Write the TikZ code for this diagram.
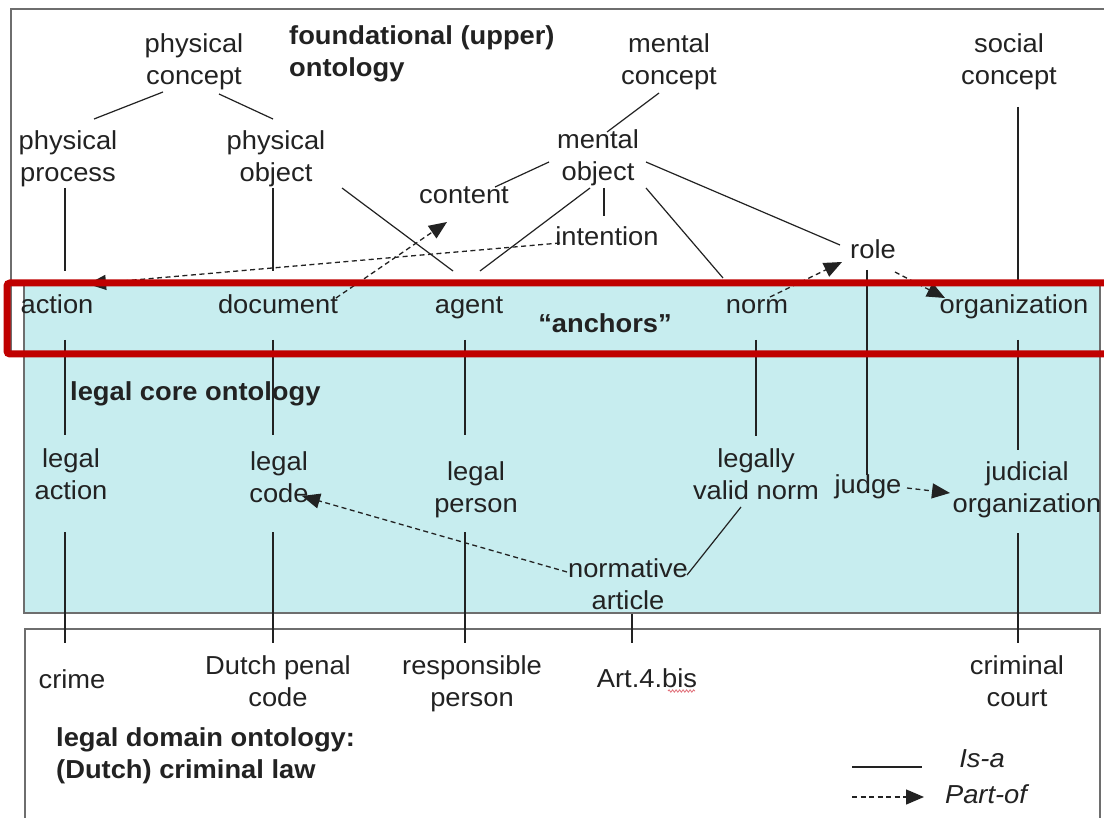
\documentclass[tikz,border=0pt]{standalone}
\usepackage{fontspec}
\setmainfont{Liberation Sans}[FakeStretch=1.05]
\usetikzlibrary{calc,arrows.meta,decorations.pathmorphing}

\definecolor{inkc}{RGB}{34,34,34}
\definecolor{corefill}{RGB}{199,237,239}
\definecolor{framec}{RGB}{110,110,110}
\definecolor{anchorred}{RGB}{192,0,0}
\definecolor{spellred}{RGB}{225,110,120}

\newcommand\txtsize{\fontsize{26}{32}\selectfont}
\newcommand\twoln[2]{\strut#1\\\strut#2}

\begin{document}
\begin{tikzpicture}[x=1pt,y=-1pt,
  lbl/.style={align=center,inner sep=0pt,text=inkc,font=\txtsize},
  ttl/.style={align=left,inner sep=0pt,text=inkc,font=\txtsize\bfseries,anchor=west},
  isa/.style={draw=inkc,line width=1.2pt},
  judgeline/.style={draw=inkc,line width=2pt},
  partof/.style={draw=inkc,line width=1.3pt,dash pattern=on 5pt off 3.5pt,
    -{Triangle[length=18pt,width=15pt]}},
  frame/.style={draw=framec,line width=1.4pt}]

% canvas
\fill[white] (0,0) rectangle (1104,818);
\useasboundingbox (0,0) rectangle (1104,818);

% layer frames
\draw[frame] (11,9) rectangle (1112,352);
\draw[frame,fill=corefill] (24,283) rectangle (1100,613);
\draw[frame] (25,629) rectangle (1100,830);

% foundational (upper) ontology
\node[lbl] (pc) at (194,62) {\twoln{physical}{concept}};
\node[ttl] (found) at (289,54) {\twoln{foundational (upper)}{ontology}};
\node[lbl] (mc) at (669,62) {\twoln{mental}{concept}};
\node[lbl] (sc) at (1009,62) {\twoln{social}{concept}};
\node[lbl] (pp) at (68,159) {\twoln{physical}{process}};
\node[lbl] (po) at (276,159) {\twoln{physical}{object}};
\node[lbl] (mo) at (598,158) {\twoln{mental}{object}};
\node[lbl] (cont) at (464,197) {\strut content};
\node[lbl] (int) at (607,239) {\strut intention};
\node[lbl] (role) at (873,252) {\strut role};

% anchors
\node[lbl] (act) at (57,307) {\strut action};
\node[lbl] (doc) at (278,307) {\strut document};
\node[lbl] (agt) at (469,307) {\strut agent};
\node[lbl] (norm) at (757,307) {\strut norm};
\node[lbl] (org) at (1014,307) {\strut organization};
\node[lbl,font=\txtsize\bfseries] (anch) at (605,326) {\strut “anchors”};

% legal core ontology
\node[ttl] (lco) at (70,394) {\strut legal core ontology};
\node[lbl] (la) at (71,477) {\twoln{legal}{action}};
\node[lbl] (lc) at (279,480) {\twoln{legal}{code}};
\node[lbl] (lp) at (476,490) {\twoln{legal}{person}};
\node[lbl] (lvn) at (756,477) {\twoln{legally}{valid norm}};
\node[lbl] (judge) at (868,487) {\strut judge};
\node[lbl] (jo) at (1027,490) {\twoln{judicial}{organization}};
\node[lbl] (na) at (628,587) {\twoln{normative}{article}};

% legal domain ontology
\node[lbl] (crime) at (72,682) {\strut crime};
\node[lbl] (dpc) at (278,684) {\twoln{Dutch penal}{code}};
\node[lbl] (rp) at (472,684) {\twoln{responsible}{person}};
\node[lbl] (art) at (647,681) {\strut Art.4.bis};
\node[lbl] (cc) at (1017,684) {\twoln{criminal}{court}};
\node[ttl] (ldo) at (56,756) {\twoln{legal domain ontology:}{(Dutch) criminal law}};

% legend
\node[lbl,font=\txtsize\itshape] (isaL) at (982,761) {\strut Is-a};
\node[lbl,font=\txtsize\itshape] (partL) at (986,797) {\strut Part-of};
\coordinate (lgA) at (852,767);
\coordinate (lgB) at (922,767);
\coordinate (lgC) at (852,797);
\coordinate (lgD) at (924,797);
\draw[isa] (lgA) -- (lgB);
\draw[partof] (lgC) -- (lgD);

% spelling squiggle under "bis"
\draw[draw=spellred,line width=0.8pt,decorate,
  decoration={snake,amplitude=1.2pt,segment length=3.5pt}]
  ($(art)+(21,10)$) -- ($(art)+(48,10)$);

% is-a links
\draw[isa] ($(pc)+(-31,30)$) -- ($(pp)+(26,-40)$);
\draw[isa] ($(pc)+(25,32)$) -- ($(po)+(-3,-40)$);
\draw[isa] ($(pp)+(-3,29)$) -- ($(act)+(8,-36)$);
\draw[isa] ($(po)+(-3,29)$) -- ($(doc)+(-5,-36)$);
\draw[isa] ($(po)+(66,29)$) -- ($(agt)+(-16,-36)$);
\draw[isa] ($(mo)+(-8,30)$) -- ($(agt)+(11,-36)$);
\draw[isa] ($(mo)+(-49,4)$) -- ($(cont)+(31,-10)$);
\draw[isa] ($(mc)+(-10,31)$) -- ($(mo)+(9,-26)$);
\draw[isa] ($(mo)+(6,30)$) -- ($(int)+(-3,-23)$);
\draw[isa] ($(mo)+(48,30)$) -- ($(norm)+(-34,-29)$);
\draw[isa] ($(mo)+(48,4)$) -- ($(role)+(-33,-7)$);
\draw[isa] ($(sc)+(9,45)$) -- ($(org)+(4,-27)$);
\draw[judgeline] ($(role)+(-6,18)$) -- ($(judge)+(-1,-12)$);
\draw[isa] ($(act)+(8,33)$) -- ($(la)+(-6,-42)$);
\draw[isa] ($(doc)+(-5,33)$) -- ($(lc)+(-6,-45)$);
\draw[isa] ($(agt)+(-4,33)$) -- ($(lp)+(-11,-55)$);
\draw[isa] ($(norm)+(-1,33)$) -- ($(lvn)+(0,-41)$);
\draw[isa] ($(org)+(4,33)$) -- ($(jo)+(-9,-40)$);
\draw[isa] ($(lvn)+(-15,30)$) -- ($(na)+(59,-12)$);
\draw[isa] ($(la)+(-6,55)$) -- ($(crime)+(-7,-39)$);
\draw[isa] ($(lc)+(-6,52)$) -- ($(dpc)+(-5,-41)$);
\draw[isa] ($(lp)+(-11,42)$) -- ($(rp)+(-7,-41)$);
\draw[isa] ($(na)+(4,27)$) -- ($(art)+(-15,-38)$);
\draw[isa] ($(jo)+(-9,43)$) -- ($(cc)+(1,-41)$);

% part-of links
\draw[partof] ($(int)+(-47,4)$) -- ($(act)+(31,-23)$);
\draw[partof] ($(doc)+(58,-9)$) -- ($(cont)+(-17,25)$);
\draw[partof] ($(norm)+(13,-10)$) -- ($(role)+(-31,10)$);
\draw[partof] ($(role)+(22,20)$) -- ($(org)+(-69,-9)$);
\draw[partof] ($(na)+(-61,-15)$) -- ($(lc)+(23,16)$);
\draw[partof] ($(judge)+(39,1)$) -- ($(jo)+(-77,3)$);

% anchors band
\draw[anchorred,line width=7pt,rounded corners=3pt] (7,283) rectangle (1114,354);
\end{tikzpicture}
\end{document}
